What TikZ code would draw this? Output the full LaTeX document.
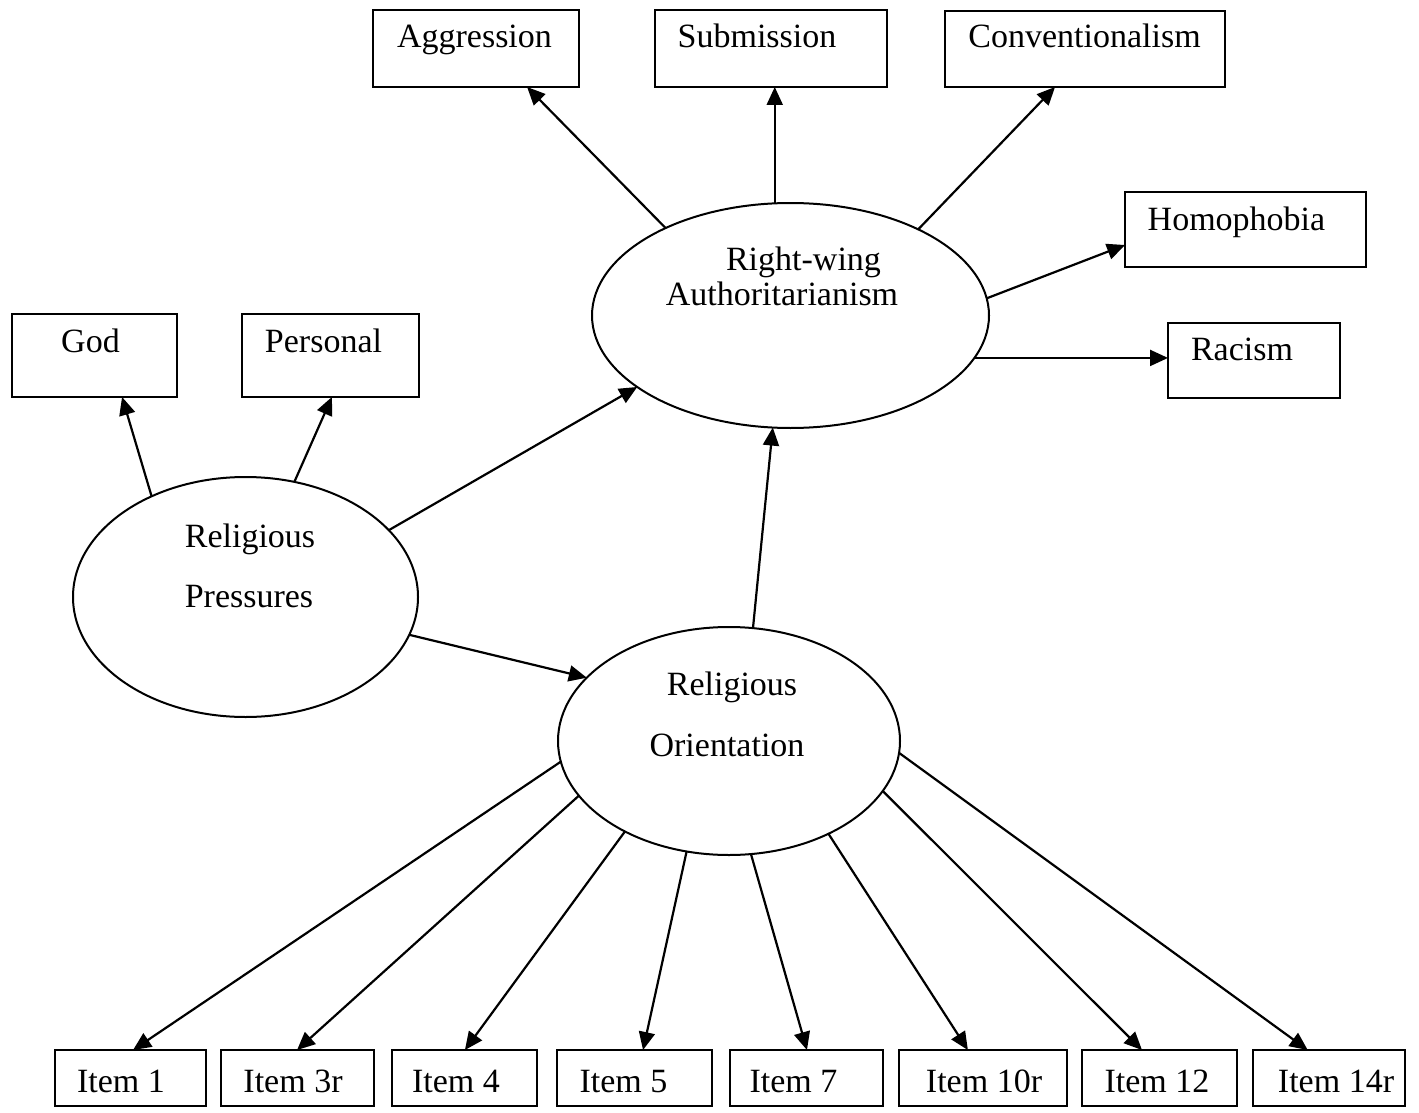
\documentclass[tikz,border=0pt]{standalone}
\usepackage{fontspec}
\setmainfont{Liberation Serif}
\usetikzlibrary{arrows.meta,calc,shapes.geometric}

\begin{document}
\begin{tikzpicture}[x=0.5pt,y=-0.5pt,
  every node/.style={inner sep=0pt, outer sep=0pt},
  box/.style 2 args={draw, line width=1pt, minimum width=#1*0.5pt, minimum height=#2*0.5pt},
  blob/.style 2 args={draw, ellipse, line width=1pt, minimum width=#1*0.5pt, minimum height=#2*0.5pt},
  lbl/.style={anchor=base, font=\fontsize{17}{20}\selectfont},
  link/.style={line width=1.1pt, -{Triangle[length=9pt,width=8pt]}}]

% canvas
\fill[white] (0,0) rectangle (1419,1113);
\useasboundingbox (0,0) rectangle (1419,1113);

% latent variables
\node[blob={397}{225}] (rwa) at (790.5,315.5) {};
\node[lbl] (rwa-a) at (803.5,270) {Right-wing};
\node[lbl] (rwa-b) at (782,305) {Authoritarianism};

\node[blob={345}{240}] (rp) at (245.5,597) {};
\node[lbl] (rp-a) at (250,547) {Religious};
\node[lbl] (rp-b) at (249,607) {Pressures};

\node[blob={342}{228}] (ro) at (729,741) {};
\node[lbl] (ro-a) at (732,695) {Religious};
\node[lbl] (ro-b) at (727,756) {Orientation};

% indicators of right-wing authoritarianism
\node[box={206}{77}] (agg) at (476,48.5) {};
\node[lbl] (agg-t) at (474.5,48) {Aggression};
\node[box={232}{77}] (sub) at (771,48.5) {};
\node[lbl] (sub-t) at (757,48) {Submission};
\node[box={280}{76}] (con) at (1085,49) {};
\node[lbl] (con-t) at (1084.5,48) {Conventionalism};
\node[box={241}{75}] (hom) at (1245.5,229.5) {};
\node[lbl] (hom-t) at (1236.5,230) {Homophobia};
\node[box={172}{75}] (rac) at (1254,360.5) {};
\node[lbl] (rac-t) at (1242,360) {Racism};

% indicators of religious pressures
\node[box={165}{83}] (god) at (94.5,355.5) {};
\node[lbl] (god-t) at (90.5,352) {God};
\node[box={177}{83}] (per) at (330.5,355.5) {};
\node[lbl] (per-t) at (323.5,352) {Personal};

% scale items
\foreach \n/\cx/\w/\tx/\t in {
    i1/130.5/151/121/Item 1,
    i3/297.5/153/293/Item 3r,
    i4/464.5/145/456/Item 4,
    i5/634.5/155/623.5/Item 5,
    i7/806.5/153/793.5/Item 7,
    i10/983/168/984/Item 10r,
    i12/1159.5/155/1157/Item 12,
    i14/1329/152/1336/Item 14r} {
  \node[box={\w}{56}] (\n) at (\cx,1078) {};
  \node[lbl] (\n-t) at (\tx,1092) {\t};
}

% paths from right-wing authoritarianism
\draw[link] (rwa.145.5) -- ($(agg.south west)!0.748!(agg.south east)$);
\draw[link] (rwa.98.3) -- (rwa.98.3 |- sub.south);
\draw[link] (rwa.34.7) -- ($(con.south west)!0.393!(con.south east)$);
\draw[link] (rwa.5.1) -- ($(hom.north west)!0.707!(hom.south west)$);
\draw[link] (rwa.-13.7) -- (rwa.-13.7 -| rac.west);

% paths from religious pressures
\draw[link] (rp.133.4) -- ($(god.south west)!0.667!(god.south east)$);
\draw[link] (rp.67.1) -- ($(per.south west)!0.508!(per.south east)$);
\draw[link] (rp.25.5) -- (rwa.205.3);
\draw[link] (rp.-13.8) -- (ro.156);

% paths from religious orientation
\draw[link] (ro.78.6) -- (rwa.261.3);
\foreach \n/\a/\f in {
    i1/187.3/0.517,
    i3/200.8/0.497,
    i4/221/0.503,
    i5/249.8/0.555,
    i7/281.9/0.503,
    i10/317.1/0.41,
    i12/342.4/0.387,
    i14/356/0.36} {
  \draw[link] (ro.\a) -- ($(\n.north west)!\f!(\n.north east)$);
}
\end{tikzpicture}
\end{document}
